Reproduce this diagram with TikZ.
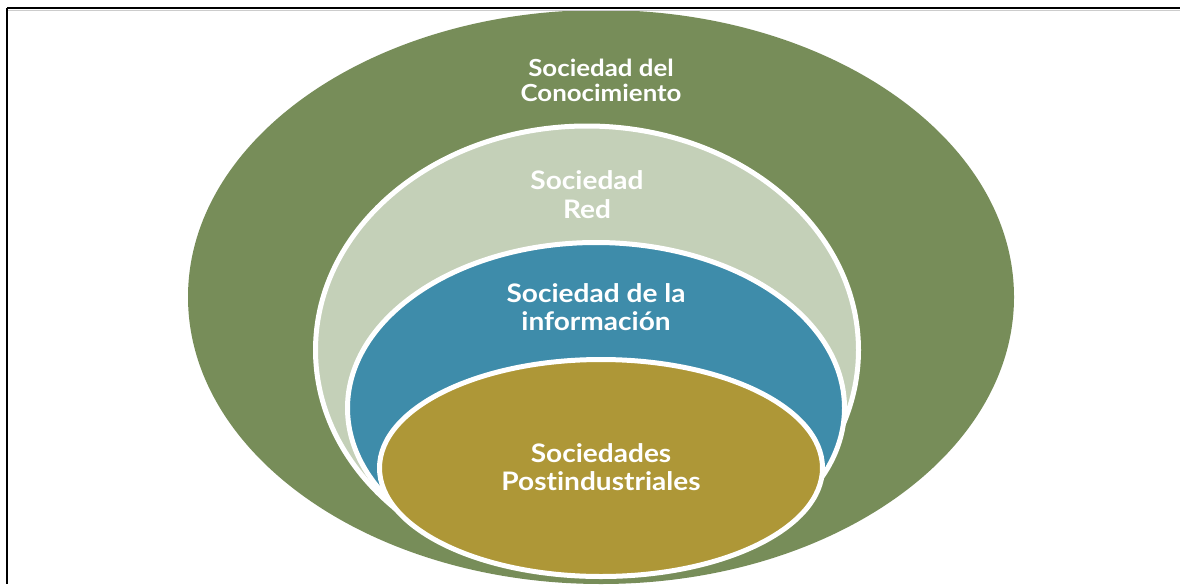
\documentclass[tikz,border=0pt]{standalone}
\usepackage{fontspec}
\setmainfont{Lato}[Ligatures=NoCommon, FakeStretch=1.1]
\definecolor{outergreen}{RGB}{119,141,89}
\definecolor{palegreen}{RGB}{196,208,184}
\definecolor{tealblue}{RGB}{62,140,170}
\definecolor{ochre}{RGB}{174,151,55}
\tikzset{
  ring/.style={draw=white, line width=5pt},
  lbl/.style={text=white, font=\bfseries\fontsize{23.5}{25}\selectfont, align=center, inner sep=0pt}
}
\begin{document}
\begin{tikzpicture}[x=1pt,y=-1pt]
\useasboundingbox (0,0) rectangle (1180,584);
\clip (0,0) rectangle (1180,584);
\fill[white] (0,0) rectangle (1180,584);
% outer
\fill[outergreen] (601,297) ellipse [x radius=413, y radius=287];
\filldraw[ring, fill=palegreen] (587,350) ellipse [x radius=271.5, y radius=224];
\filldraw[ring, fill=tealblue] (596,408) ellipse [x radius=248.5, y radius=165.5];
\filldraw[ring, fill=ochre] (601,468) ellipse [x radius=221.5, y radius=108.5];
% frame
\draw[black!20, line width=1pt] (8,10.2) -- (1180,10.2);
\draw[black, line width=1.6pt] (7,8) -- (1180,8);
\draw[black, line width=1.6pt] (7,8) -- (7,584);
% labels
\node[lbl] (conoc) at (601,80) {Sociedad del\\Conocimiento};
\node[lbl, font=\bfseries\fontsize{25.5}{29}\selectfont] (red) at (587,195) {Sociedad\\Red};
\node[lbl, font=\bfseries\fontsize{25.5}{28}\selectfont] (info) at (596,307) {Sociedad de la\\información};
\node[lbl, font=\bfseries\fontsize{25.5}{28}\selectfont] (post) at (601,467) {Sociedades\\Postindustriales};
\end{tikzpicture}
\end{document}
